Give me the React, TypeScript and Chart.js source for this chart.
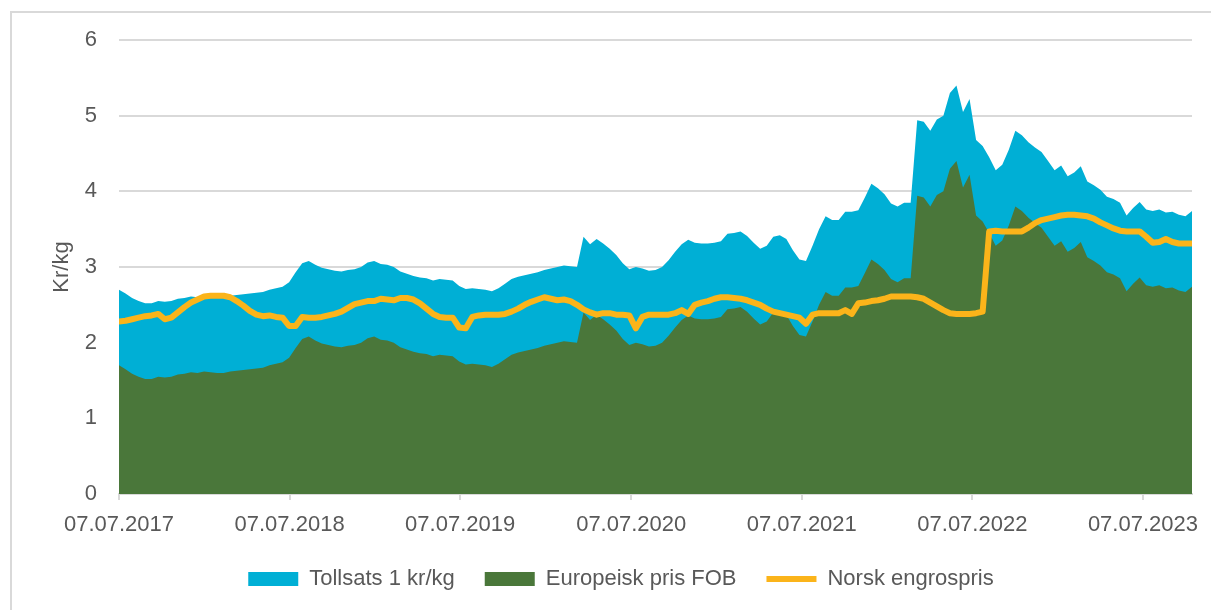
import React, { useEffect, useRef } from 'react';
import { Chart, registerables } from 'chart.js';

Chart.register(...registerables);

// x positions: one value every 14 days, starting 07.07.2017 (day 0)
const STEP_DAYS = 14;

const tickDays = [0, 365, 730, 1096, 1461, 1826, 2191];
const tickLabels = ['07.07.2017', '07.07.2018', '07.07.2019', '07.07.2020', '07.07.2021', '07.07.2022', '07.07.2023'];

// Europeisk pris FOB (kr/kg)
const europeiskPris = [
  1.70, 1.65, 1.59, 1.55, 1.52, 1.52, 1.55, 1.54, 1.55, 1.58,
  1.59, 1.61, 1.60, 1.62, 1.61, 1.60, 1.60, 1.62, 1.63, 1.64,
  1.65, 1.66, 1.67, 1.70, 1.72, 1.74, 1.80, 1.93, 2.05, 2.08,
  2.03, 1.99, 1.97, 1.95, 1.94, 1.96, 1.97, 2.00, 2.06, 2.08,
  2.04, 2.03, 2.00, 1.94, 1.91, 1.88, 1.86, 1.85, 1.82, 1.84,
  1.83, 1.82, 1.75, 1.71, 1.72, 1.71, 1.70, 1.68, 1.72, 1.78,
  1.84, 1.87, 1.89, 1.91, 1.93, 1.96, 1.98, 2.00, 2.02, 2.01,
  2.00, 2.40, 2.30, 2.37, 2.31, 2.24, 2.16, 2.05, 1.97, 2.00,
  1.98, 1.95, 1.96, 2.00, 2.09, 2.20, 2.30, 2.36, 2.32, 2.31,
  2.31, 2.32, 2.34, 2.44, 2.45, 2.47, 2.41, 2.32, 2.24, 2.28,
  2.40, 2.42, 2.37, 2.22, 2.10, 2.08, 2.28, 2.50, 2.67, 2.62,
  2.62, 2.73, 2.73, 2.75, 2.92, 3.10, 3.04, 2.96, 2.84, 2.80,
  2.85, 2.85, 3.94, 3.92, 3.80, 3.95, 4.00, 4.30, 4.40, 4.05,
  4.22, 3.68, 3.60, 3.45, 3.28, 3.35, 3.55, 3.80, 3.74, 3.65,
  3.58, 3.52, 3.40, 3.28, 3.34, 3.20, 3.25, 3.33, 3.13, 3.08,
  3.02, 2.93, 2.90, 2.85, 2.68, 2.78, 2.86, 2.76, 2.74, 2.76,
  2.72, 2.73, 2.69, 2.67, 2.74,
];

// Tollsats: 1 kr/kg on top of the European price
const TOLLSATS_KR = 1;

// Norsk engrospris (kr/kg)
const norskPris = [
  2.28, 2.29, 2.31, 2.33, 2.35, 2.36, 2.38, 2.31, 2.33, 2.40,
  2.47, 2.53, 2.57, 2.61, 2.62, 2.62, 2.62, 2.60, 2.55, 2.49,
  2.42, 2.37, 2.35, 2.36, 2.34, 2.33, 2.22, 2.22, 2.34, 2.33,
  2.33, 2.34, 2.36, 2.38, 2.41, 2.46, 2.51, 2.53, 2.55, 2.55,
  2.58, 2.57, 2.56, 2.59, 2.59, 2.57, 2.52, 2.45, 2.38, 2.34,
  2.33, 2.33, 2.20, 2.19, 2.34, 2.36, 2.37, 2.37, 2.37, 2.38,
  2.41, 2.45, 2.50, 2.54, 2.57, 2.60, 2.58, 2.56, 2.57, 2.55,
  2.50, 2.44, 2.40, 2.37, 2.39, 2.39, 2.37, 2.37, 2.36, 2.19,
  2.34, 2.37, 2.37, 2.37, 2.37, 2.39, 2.43, 2.38, 2.50, 2.53,
  2.55, 2.58, 2.60, 2.60, 2.59, 2.58, 2.56, 2.53, 2.50, 2.45,
  2.41, 2.39, 2.37, 2.35, 2.33, 2.25, 2.37, 2.39, 2.39, 2.39,
  2.39, 2.43, 2.38, 2.52, 2.53, 2.55, 2.56, 2.58, 2.61, 2.61,
  2.61, 2.61, 2.60, 2.58, 2.53, 2.48, 2.43, 2.39, 2.38, 2.38,
  2.38, 2.39, 2.41, 3.47, 3.48, 3.47, 3.47, 3.47, 3.47, 3.52,
  3.58, 3.62, 3.64, 3.66, 3.68, 3.69, 3.69, 3.68, 3.67, 3.64,
  3.59, 3.55, 3.51, 3.48, 3.47, 3.47, 3.47, 3.40, 3.32, 3.33,
  3.37, 3.33, 3.31, 3.31, 3.31,
];

const BLUE = '#00AFD5';
const GREEN = '#4A773A';
const ORANGE = '#FBB41A';
const TEXT = '#595959';
const GRID = '#D9D9D9';
const FONT = { family: "'Liberation Sans', Arial, sans-serif", size: 22 };

const legendShift = {
  id: 'legendShift',
  afterLayout(chart: any) {
    const l = chart.legend;
    if (l) {
      l.left += 25;
      l.right += 25;
    }
  },
};

export default function App() {
  const ref = useRef<HTMLCanvasElement>(null);

  useEffect(() => {
    document.body.style.margin = '0';
    const days = europeiskPris.map((_, i) => i * STEP_DAYS);
    const maxDay = days[days.length - 1];
    const legendRank: Record<number, number> = { 1: 0, 0: 1, 2: 2 };

    const chart = new Chart(ref.current!, {
      type: 'line',
      data: {
        datasets: [
          {
            label: 'Europeisk pris FOB',
            data: days.map((d, i) => ({ x: d, y: europeiskPris[i] })),
            backgroundColor: GREEN,
            borderColor: GREEN,
            borderWidth: 0,
            fill: 'origin',
            pointRadius: 0,
            pointStyle: 'rect',
            stack: 'pris',
            order: 1,
          },
          {
            label: 'Tollsats 1 kr/kg',
            data: days.map((d) => ({ x: d, y: TOLLSATS_KR })),
            backgroundColor: BLUE,
            borderColor: BLUE,
            borderWidth: 0,
            fill: 'origin',
            pointRadius: 0,
            pointStyle: 'rect',
            stack: 'pris',
            order: 2,
          },
          {
            label: 'Norsk engrospris',
            data: days.map((d, i) => ({ x: d, y: norskPris[i] })),
            backgroundColor: ORANGE,
            borderColor: ORANGE,
            borderWidth: 6,
            borderCapStyle: 'round',
            borderJoinStyle: 'round',
            fill: false,
            pointRadius: 0,
            pointStyle: 'line',
            stack: 'norsk',
            order: 0,
          },
        ],
      },
      plugins: [legendShift],
      options: {
        responsive: false,
        animation: false,
        devicePixelRatio: 1,
        events: [],
        layout: { padding: { top: 40, right: 19, bottom: 10, left: 0 } },
        plugins: {
          tooltip: { enabled: false },
          legend: {
            position: 'bottom',
            labels: {
              usePointStyle: true,
              pointStyleWidth: 50,
              boxHeight: 14,
              padding: 30,
              color: TEXT,
              font: FONT,
              sort: (a: any, b: any) => legendRank[a.datasetIndex] - legendRank[b.datasetIndex],
            },
          },
        },
        scales: {
          x: {
            type: 'linear',
            min: 0,
            max: maxDay,
            afterBuildTicks: (axis: any) => {
              axis.ticks = tickDays.map((v) => ({ value: v }));
            },
            afterFit: (axis: any) => {
              axis.height = 44;
            },
            ticks: {
              autoSkip: false,
              maxRotation: 0,
              padding: 12,
              color: TEXT,
              font: FONT,
              callback: (v: any) => {
                const k = tickDays.indexOf(Number(v));
                return k >= 0 ? tickLabels[k] : '';
              },
            },
            grid: { drawOnChartArea: false, drawTicks: true, tickLength: 6, color: GRID, lineWidth: 2 },
            border: { display: true, color: GRID, width: 2 },
          },
          y: {
            stacked: true,
            min: 0,
            max: 6,
            afterFit: (axis: any) => {
              axis.width = 119;
            },
            ticks: { stepSize: 1, padding: 22, color: TEXT, font: FONT },
            grid: { color: GRID, lineWidth: 2, drawTicks: false },
            border: { display: false },
            title: {
              display: true,
              text: 'Kr/kg',
              color: TEXT,
              font: FONT,
              padding: { top: 49, bottom: 0 },
            },
          },
        },
      },
    } as any);

    return () => chart.destroy();
  }, []);

  return (
    <div style={{ position: 'relative', width: 1211, height: 610, overflow: 'hidden', background: '#fff' }}>
      <div
        style={{
          position: 'absolute',
          left: 10,
          top: 11,
          width: 1400,
          height: 800,
          border: '2px solid #D9D9D9',
          boxSizing: 'border-box',
        }}
      />
      <canvas ref={ref} width={1211} height={610} style={{ position: 'absolute', left: 0, top: 0, display: 'block' }} />
    </div>
  );
}
